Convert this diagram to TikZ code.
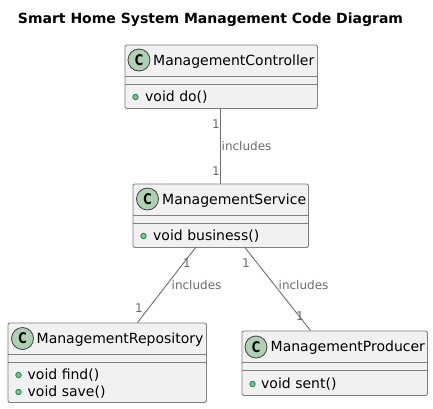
\documentclass[tikz,border=0pt]{standalone}
\usepackage{fontspec}
\setmainfont{DejaVu Sans}
\definecolor{boxfill}{HTML}{F1F1F1}
\definecolor{boxline}{HTML}{7F7F7F}
\definecolor{linkc}{HTML}{6E6E6E}
\definecolor{labc}{HTML}{6B6B6B}
\definecolor{spot}{HTML}{ADD1B2}
\definecolor{dotf}{HTML}{84BE84}
\definecolor{dotl}{HTML}{038048}
\newcommand{\spotletter}{\scalebox{0.82}[1.05]{C}}
\tikzset{
  x=1pt,y=-1pt,
  classbox/.style={draw=boxline,fill=boxfill,line width=0.9pt,rounded corners=2pt,anchor=north west,inner sep=0pt},
  sepline/.style={draw=boxline,line width=0.9pt},
  spotc/.style={circle,draw=black!75,fill=spot,line width=0.8pt,minimum size=22pt,inner sep=0pt,font=\fontsize{14}{14}\selectfont\bfseries},
  cname/.style={anchor=base west,inner sep=0pt,font=\fontsize{14}{14}\selectfont,text=black},
  member/.style={anchor=base west,inner sep=0pt,font=\fontsize{14}{14}\selectfont,text=black},
  pub/.style={circle,draw=dotl,fill=dotf,line width=0.7pt,minimum size=5.5pt,inner sep=0pt},
  link/.style={draw=linkc,line width=0.9pt},
  elabel/.style={inner sep=0pt,font=\fontsize{12}{13}\selectfont,text=labc,anchor=base west},
  mult/.style={inner sep=0pt,font=\fontsize{12}{13}\selectfont,text=labc,anchor=base},
}
\begin{document}
\begin{tikzpicture}
\useasboundingbox (0,0) rectangle (433,408);
\fill[white] (0,0) rectangle (433,408);
\node[anchor=base,inner sep=0pt,font=\fontsize{14}{14}\selectfont\bfseries] (title) at (210.5,23) {Smart Home System Management Code Diagram};

% Controller
\node[classbox,minimum width=192.5pt,minimum height=63.5pt] (ctrl) at (124.5,44.5) {};
\draw[sepline] (124.5,76) -- (317,76) (124.5,84.5) -- (317,84.5);
\node[spotc] (ctrlspot) at (139,60) {\spotletter};
\node[cname] (ctrlname) at (153,65) {ManagementController};
\node[pub] (ctrldot) at (135.5,97) {};
\node[member] (ctrlm) at (145,101) {void do()};

% Service
\node[classbox,minimum width=175.5pt,minimum height=63.5pt] (svc) at (132.5,183.5) {};
\draw[sepline] (132.5,215.5) -- (308,215.5) (132.5,223) -- (308,223);
\node[spotc] (svcspot) at (147.5,199) {\spotletter};
\node[cname] (svcname) at (162,204) {ManagementService};
\node[pub] (svcdot) at (143.5,236) {};
\node[member] (svcm) at (153,240) {void business()};

% Repository
\node[classbox,minimum width=198.5pt,minimum height=79.5pt] (repo) at (7.5,322.5) {};
\draw[sepline] (7.5,354) -- (206,354) (7.5,362.5) -- (206,362.5);
\node[spotc] (repospot) at (22.5,338.5) {\spotletter};
\node[cname] (reponame) at (36.5,343.5) {ManagementRepository};
\node[pub] (repodota) at (18.5,375) {};
\node[member] (repoma) at (27.5,379.5) {void find()};
\node[pub] (repodotb) at (18.5,392) {};
\node[member] (repomb) at (27.5,396) {void save()};

% Producer
\node[classbox,minimum width=185.5pt,minimum height=64.5pt] (prod) at (241.5,330.5) {};
\draw[sepline] (241.5,362.5) -- (427,362.5) (241.5,370.5) -- (427,370.5);
\node[spotc] (prodspot) at (256,347) {\spotletter};
\node[cname] (prodname) at (270.5,351.5) {ManagementProducer};
\node[pub] (proddot) at (252.5,384) {};
\node[member] (prodm) at (261,388) {void sent()};

% Connector ends
\coordinate (ca) at (220.4,108);
\coordinate (cb) at (220.4,183.5);
\coordinate (sa) at (196,247);
\coordinate (ra) at (137.5,322.5);
\coordinate (sb) at (244.5,247);
\coordinate (pa) at (310.5,330.5);
\draw[link] (ca) -- (cb);
\draw[link] (sa) -- (ra);
\draw[link] (sb) -- (pa);

\node[elabel] (l1) at (221.5,150) {includes};
\node[elabel] (l2) at (171.5,289.5) {includes};
\node[elabel] (l3) at (278.5,289.5) {includes};
\node[mult] (m1) at (216,128.5) {1};
\node[mult] (m2) at (216,175.5) {1};
\node[mult] (m3) at (187,267.5) {1};
\node[mult] (m4) at (139,312) {1};
\node[mult] (m5) at (246,267.5) {1};
\node[mult] (m6) at (300,320.5) {1};
\end{tikzpicture}
\end{document}
